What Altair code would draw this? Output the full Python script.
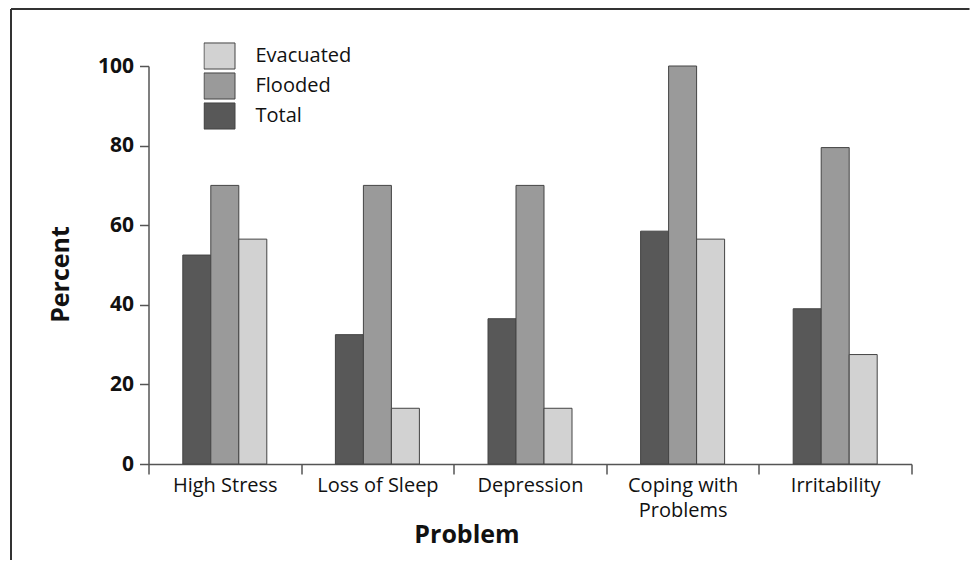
import altair as alt
import pandas as pd

problems = ["High Stress", "Loss of Sleep", "Depression", "Coping with Problems", "Irritability"]
groups = ["Total", "Flooded", "Evacuated"]
offset_slots = [" ", "Total", "Flooded", "Evacuated", "  "]
legend_order = ["Evacuated", "Flooded", "Total"]
total = [52.5, 32.5, 36.5, 58.5, 39]
flooded = [70, 70, 70, 100, 79.5]
evacuated = [56.5, 14, 14, 56.5, 27.5]
colors = ["#d2d2d2", "#9a9a9a", "#585858"]
y_ticks = [0, 20, 40, 60, 80, 100]

rows = []
for i, p in enumerate(problems):
    for g, vals in zip(groups, [total, flooded, evacuated]):
        rows.append({"Problem": p, "Group": g, "Percent": vals[i]})
df = pd.DataFrame(rows)

FONT = "Open Sans"

bars = alt.Chart(df).mark_bar(stroke="#444444", strokeWidth=1).encode(
    x=alt.X("Problem:N", sort=problems,
            scale=alt.Scale(paddingInner=0, paddingOuter=0),
            axis=alt.Axis(title="Problem", labelAngle=0, tickBand="extent",
                          labelFontSize=20, labelFont=FONT, labelColor="#111111",
                          labelPadding=1, tickSize=10, tickColor="#555555",
                          domainColor="#555555", domainWidth=1.5, tickWidth=1.5,
                          labelLineHeight=25,
                          labelExpr="datum.label == 'Coping with Problems' ? ['Coping with', 'Problems'] : datum.label",
                          titleFontSize=25, titleFont=FONT, titleFontWeight="bold",
                          titleColor="#111111", titleX=318, titleY=58, titleAlign="center")),
    xOffset=alt.XOffset("Group:N",
                        scale=alt.Scale(domain=offset_slots, paddingInner=0, paddingOuter=0.225)),
    y=alt.Y("Percent:Q", scale=alt.Scale(domain=[0, 100], nice=False),
            axis=alt.Axis(title="Percent", values=y_ticks, grid=False,
                          labelFontSize=21, labelFontWeight="bold", labelFont=FONT,
                          labelColor="#111111", labelPadding=6, tickSize=9,
                          tickColor="#555555", domainColor="#555555", domainWidth=1.5,
                          tickWidth=1.5, titleFontSize=25, titleFont=FONT,
                          titleFontWeight="bold", titleColor="#111111", titlePadding=24,
                          titleY=208)),
    color=alt.Color("Group:N", scale=alt.Scale(domain=legend_order, range=colors),
                    legend=alt.Legend(title=None, orient="none", legendX=55, legendY=-25,
                                      symbolType="M-1,-0.84L1,-0.84L1,0.84L-1,0.84Z",
                                      symbolSize=961, symbolStrokeColor="#444444",
                                      symbolStrokeWidth=1, symbolOpacity=1,
                                      labelFontSize=20, labelFont=FONT, labelColor="#111111",
                                      labelOffset=20, rowPadding=0, clipHeight=30, padding=0)),
)

frame_left = alt.Chart(pd.DataFrame({"k": [0]})).mark_rule(color="#333333", strokeWidth=2).encode(
    x=alt.value(-137.5), y=alt.value(-57), y2=alt.value(494))
frame_top = alt.Chart(pd.DataFrame({"k": [0]})).mark_rule(color="#333333", strokeWidth=2).encode(
    x=alt.value(-137.5), x2=alt.value(821), y=alt.value(-57))

chart = alt.layer(frame_left, frame_top, bars).properties(
    width=763, height=398, padding={"left": 1.5, "top": 0, "right": 0, "bottom": 0},
    background="white"
).configure_view(stroke=None)

chart.save("out.html", embed_options={"renderer": "svg", "actions": False})
